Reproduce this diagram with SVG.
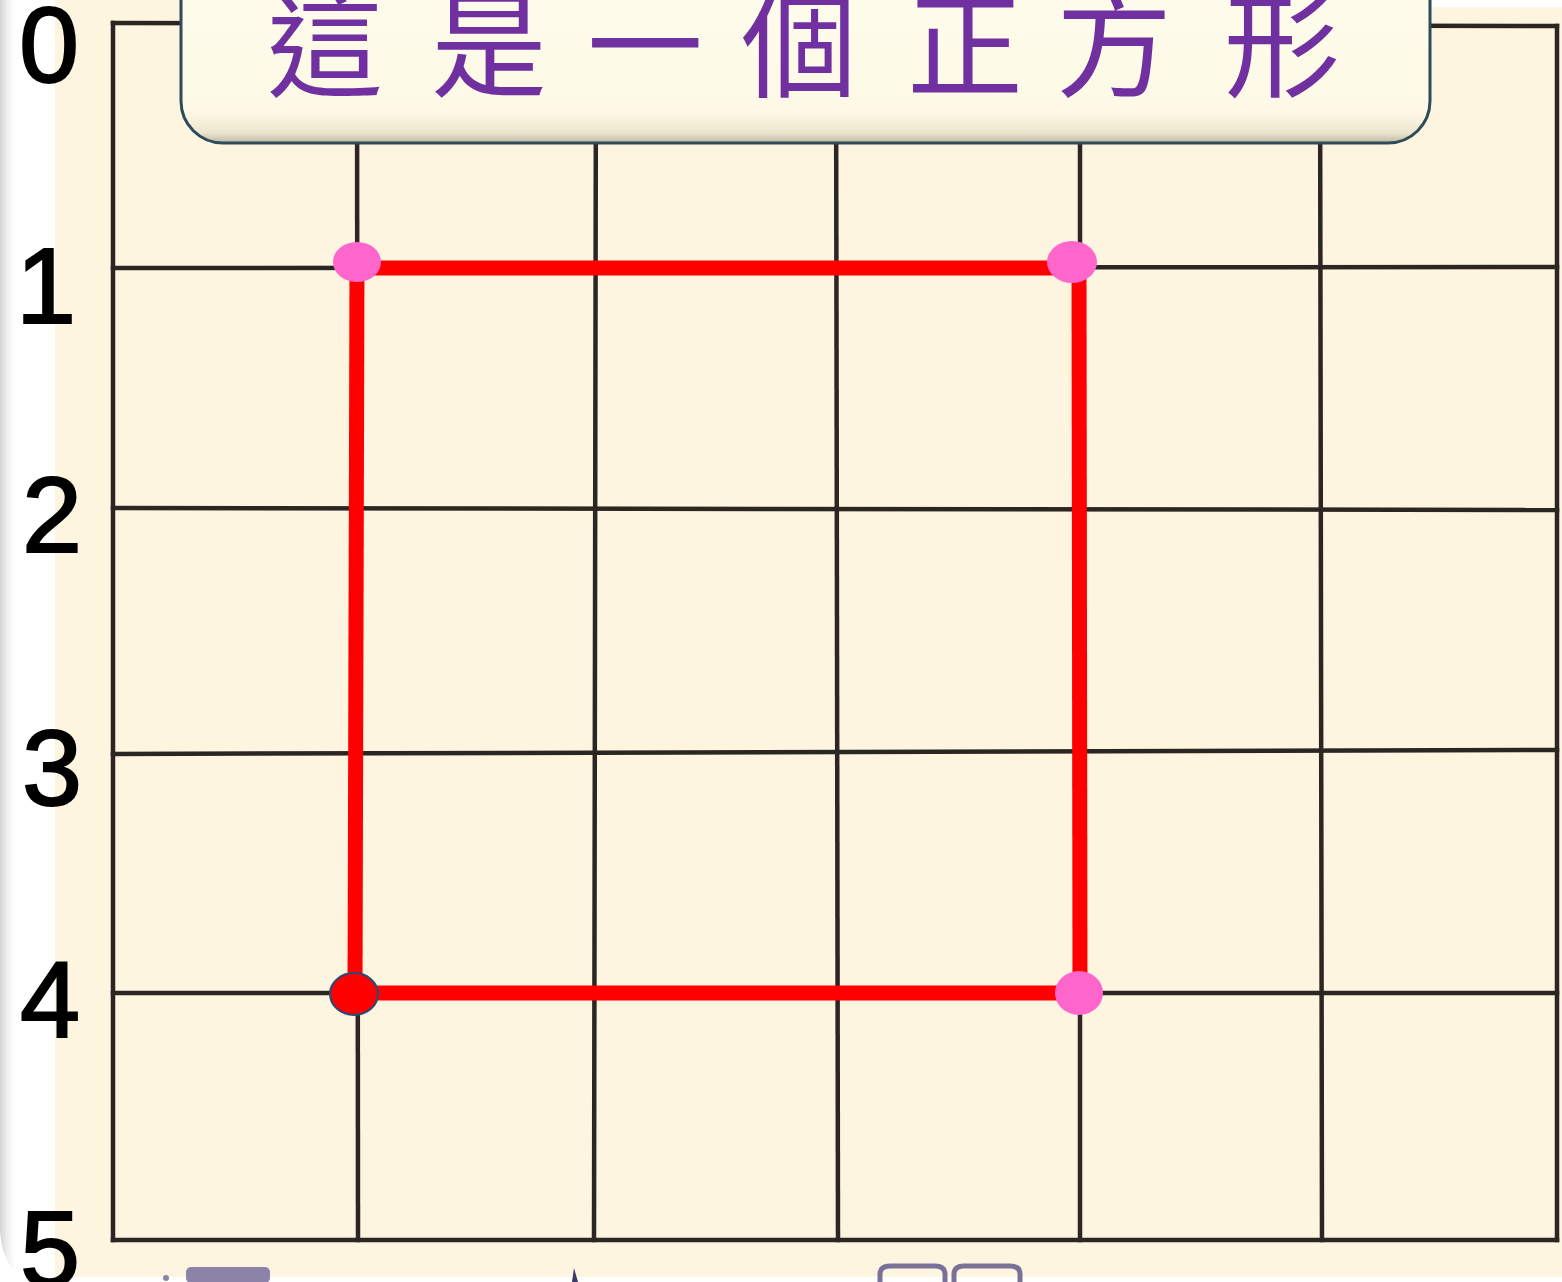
<svg xmlns="http://www.w3.org/2000/svg" width="1562" height="1282" viewBox="0 0 1562 1282">
  <defs>
    <linearGradient id="edge" x1="0" y1="0" x2="1" y2="0">
      <stop offset="0" stop-color="#d4d4d4"/>
      <stop offset="0.5" stop-color="#eeeeee"/>
      <stop offset="1" stop-color="#ffffff"/>
    </linearGradient>
    <linearGradient id="boxfill" x1="0" y1="0" x2="0" y2="1">
      <stop offset="0" stop-color="#fffdee"/>
      <stop offset="0.85" stop-color="#fdf9e6"/>
      <stop offset="0.95" stop-color="#ece6cf"/>
      <stop offset="1" stop-color="#bdb6a0"/>
    </linearGradient>
    <style>
      .grid { stroke: #2c2622; stroke-width: 4.5; fill: none; stroke-linecap: square; }
      .red { stroke: #ff0000; stroke-width: 15; fill: none; }
      .pink { fill: #ff66cc; }
      .num { font-family: "Liberation Sans", "DejaVu Sans", sans-serif; font-size: 108px; fill: #000000; text-anchor: middle; stroke: #000000; stroke-width: 2; }
      .title { font-family: "Noto Sans CJK TC", "Noto Sans CJK SC", sans-serif; font-size: 116px; fill: #7030a0; text-anchor: middle; }
      .frag { fill: #8c84a8; }
    </style>
  </defs>

  <!-- background -->
  <rect x="0" y="0" width="1562" height="1282" fill="#ffffff"/>
  <rect x="55" y="0" width="1507" height="1277" fill="#fef5e1"/>
  <path d="M0,0 H14 V1282 H0 Z" fill="url(#edge)"/>
  <path d="M0,1230 Q2,1270 30,1282 H0 Z" fill="#ffffff"/>
  <rect x="1430" y="0" width="132" height="7" fill="#ffffff"/>

  <!-- axis numbers -->
  <g id="labels">
    <text class="num" x="49" y="82">0</text>
    <text class="num" x="46" y="323">1</text>
    <text class="num" x="52" y="552">2</text>
    <text class="num" x="52" y="805">3</text>
    <text class="num" x="50" y="1037">4</text>
    <text class="num" x="50" y="1286">5</text>
  </g>

  <!-- grid -->
  <g id="grid" class="grid">
    <line x1="113" y1="23" x2="1557" y2="26"/>
    <line x1="113" y1="268" x2="1557" y2="267"/>
    <line x1="113" y1="508" x2="1557" y2="510"/>
    <line x1="113" y1="754" x2="1557" y2="750"/>
    <line x1="113" y1="993" x2="1557" y2="993"/>
    <line x1="113" y1="1240" x2="1557" y2="1240"/>
    <line x1="113" y1="23" x2="113" y2="1240"/>
    <line x1="357" y1="23" x2="358" y2="1240"/>
    <line x1="596" y1="23" x2="594" y2="1240"/>
    <line x1="836" y1="23" x2="838" y2="1240"/>
    <line x1="1080" y1="23" x2="1080" y2="1240"/>
    <line x1="1320" y1="23" x2="1322" y2="1240"/>
    <line x1="1557" y1="26" x2="1557" y2="1240"/>
  </g>

  <!-- bottom cut-off fragments -->
  <g id="fragments">
    <circle class="frag" cx="166" cy="1278" r="3"/>
    <rect class="frag" x="186" y="1267" width="84" height="16" rx="5"/>
    <path d="M574,1268 L578,1282 L572,1282 Z" fill="#3a3a6a"/>
    <path d="M880,1282 V1274 Q880,1266 890,1266 H935 Q945,1266 945,1274 V1282" fill="none" stroke="#7a7098" stroke-width="5"/>
    <path d="M954,1282 V1274 Q954,1266 964,1266 H1010 Q1020,1266 1020,1274 V1282" fill="none" stroke="#7a7098" stroke-width="5"/>
  </g>

  <!-- square edges (connectors) -->
  <g id="connectors" class="red">
    <line x1="357" y1="268" x2="1072" y2="268"/>
    <line x1="1079" y1="262" x2="1080" y2="993"/>
    <line x1="355" y1="993" x2="1080" y2="993"/>
    <line x1="357" y1="262" x2="355" y2="993"/>
  </g>

  <!-- vertices -->
  <g id="node-A"><ellipse class="pink" cx="357" cy="262" rx="24" ry="20"/></g>
  <g id="node-B"><ellipse class="pink" cx="1072" cy="262" rx="25" ry="21"/></g>
  <g id="node-C"><ellipse class="pink" cx="1079" cy="993" rx="24" ry="22"/></g>
  <g id="node-D"><ellipse cx="354" cy="994" rx="24" ry="21" fill="#ff0000" stroke="#1f4e79" stroke-width="2"/></g>

  <!-- title box -->
  <g id="title">
    <rect x="181" y="-60" width="1249" height="203" rx="42" ry="42" fill="url(#boxfill)" stroke="#2e4b5c" stroke-width="3"/>
    <text class="title" x="325 489 645 799 965 1114 1282" y="88">這是一個正方形</text>
  </g>
</svg>
